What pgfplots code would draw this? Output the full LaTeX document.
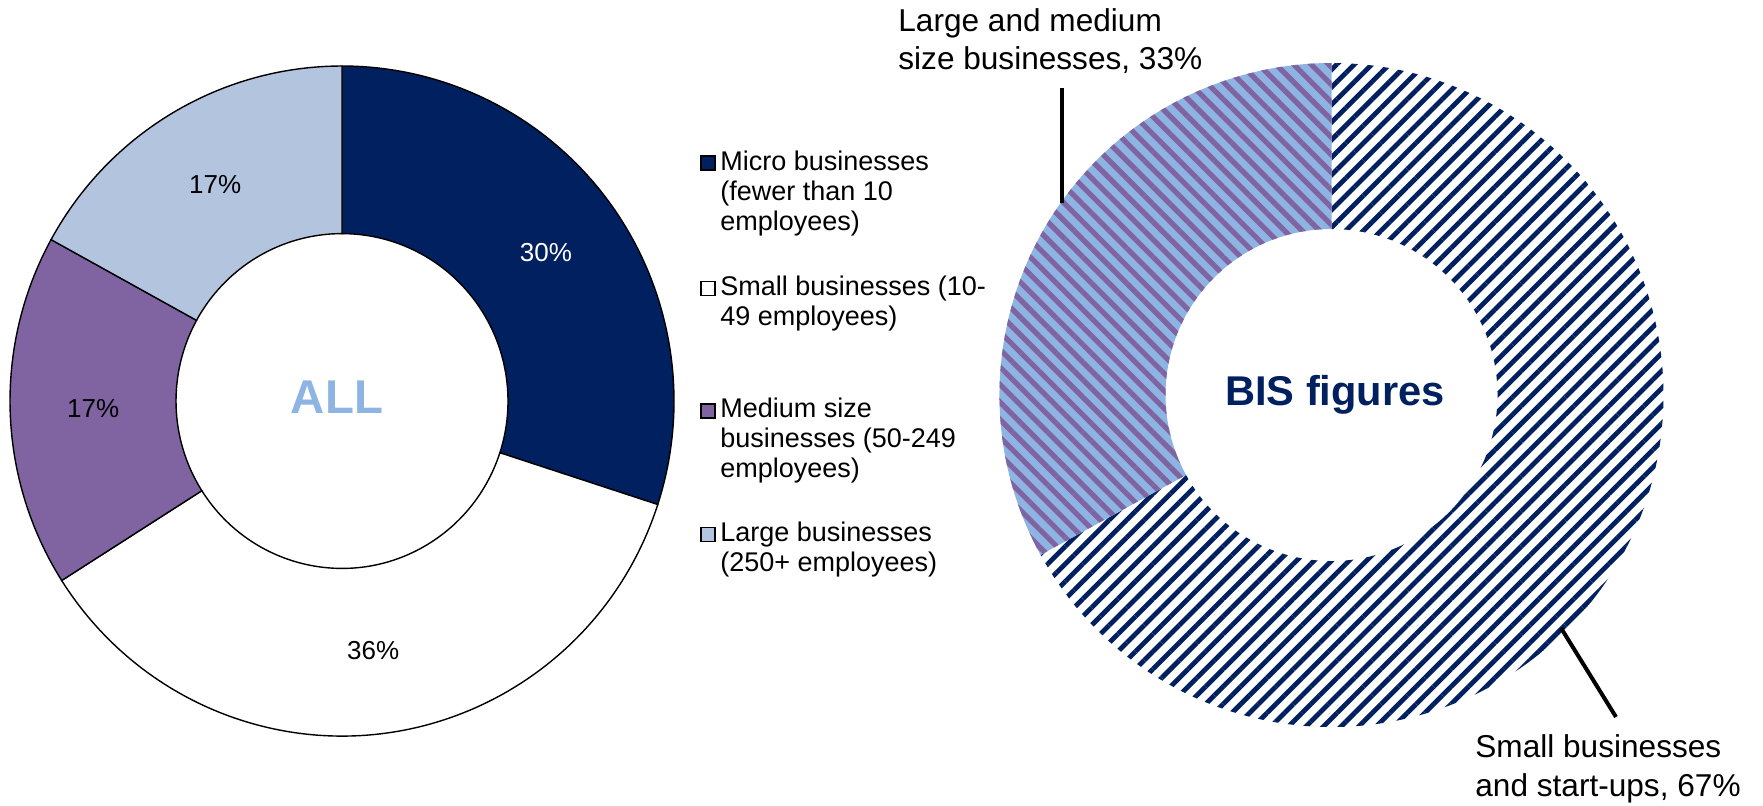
\documentclass[border=0pt]{standalone}
\usepackage{pgfplots}
\pgfplotsset{compat=1.18}
\usepackage{pgfplotstable}
\usepackage{fontspec}
\setmainfont{Liberation Sans}
\usetikzlibrary{patterns.meta}
\definecolor{navy}{HTML}{002060}
\definecolor{purp}{HTML}{8064A2}
\definecolor{grayblue}{HTML}{B3C4DE}
\definecolor{lblue}{HTML}{8DB4E2}

% ALL businesses: Micro, Small, Medium, Large (per cent)
\pgfplotstableread{
pct
30
36
17
17
}\alldata
% BIS figures: Small businesses and start-ups, Large and medium size businesses
\pgfplotstableread{
pct
67
33
}\bisdata

\newcommand\pctof[3]{\pgfplotstablegetelem{#2}{pct}\of{#1}\pgfmathsetmacro#3{\pgfplotsretval}}
% #1 cx, #2 cy (axis units), #3 start angle, #4 end angle,
% #5 outer x radius, #6 outer y radius, #7 inner x radius, #8 inner y radius, #9 style
\newcommand\slice[9]{%
  \path[#9] (axis cs:#1,#2) ++({cos(#3)*#5},{sin(#3)*#6})
    arc[start angle=#3,end angle=#4,x radius=#5,y radius=#6]
    -- ++({cos(#4)*(#7-#5)},{sin(#4)*(#8-#6)})
    arc[start angle=#4,end angle=#3,x radius=#7,y radius=#8] -- cycle;}
\newcommand\lbl{\fontsize{13}{15.5}\selectfont}
\newcommand\ann{\fontsize{15.8}{18.8}\selectfont}

\begin{document}
\begin{tikzpicture}
\pctof{\alldata}{0}{\pA}\pctof{\alldata}{1}{\pB}\pctof{\alldata}{2}{\pC}\pctof{\alldata}{3}{\pD}
\pctof{\bisdata}{0}{\qA}\pctof{\bisdata}{1}{\qB}
\pgfmathsetmacro\aA{90}
\pgfmathsetmacro\aB{\aA-3.6*\pA}
\pgfmathsetmacro\aC{\aB-3.6*\pB}
\pgfmathsetmacro\aD{\aC-3.6*\pC}
\pgfmathsetmacro\aE{\aD-3.6*\pD}
\pgfmathsetmacro\mA{(\aA+\aB)/2}
\pgfmathsetmacro\mB{(\aB+\aC)/2}
\pgfmathsetmacro\mC{(\aC+\aD)/2}
\pgfmathsetmacro\mD{(\aD+\aE)/2}
\pgfmathtruncatemacro\tA{\pA}\pgfmathtruncatemacro\tB{\pB}
\pgfmathtruncatemacro\tC{\pC}\pgfmathtruncatemacro\tD{\pD}
\pgfmathsetmacro\bA{90}
\pgfmathsetmacro\bB{\bA-3.6*\qA}
\pgfmathsetmacro\bC{\bB-3.6*\qB}
\pgfmathtruncatemacro\uA{\qA}\pgfmathtruncatemacro\uB{\qB}
\begin{axis}[
  width=881.5pt, height=402.5pt, scale only axis,
  xmin=0, xmax=1763, ymin=0, ymax=805, y dir=reverse,
  hide axis, clip=false]
% ---- left donut (ALL)
\slice{342}{401}{\aA}{\aB}{166pt}{167.5pt}{83pt}{83.7pt}{fill=navy, draw=black, line width=0.7pt}
\slice{342}{401}{\aB}{\aC}{166pt}{167.5pt}{83pt}{83.7pt}{fill=white, draw=black, line width=0.7pt}
\slice{342}{401}{\aC}{\aD}{166pt}{167.5pt}{83pt}{83.7pt}{fill=purp, draw=black, line width=0.7pt}
\slice{342}{401}{\aD}{\aE}{166pt}{167.5pt}{83pt}{83.7pt}{fill=grayblue, draw=black, line width=0.7pt}
\path (axis cs:342,401) ++({cos(\mA)*126pt},{sin(\mA)*126pt}) node[text=white, font=\lbl] {\tA\%};
\path (axis cs:342,401) ++({cos(\mB)*124.5pt},{sin(\mB)*125.6pt}) node[text=black, font=\lbl] {\tB\%};
\path (axis cs:342,401) ++({cos(\mC)*124.5pt},{sin(\mC)*125.6pt}) node[text=black, font=\lbl] {\tC\%};
\path (axis cs:342,401) ++({cos(\mD)*124.5pt},{sin(\mD)*125.6pt}) node[text=black, font=\lbl] {\tD\%};
\node[anchor=base, inner sep=0pt, text=lblue, font=\fontsize{23.7}{28}\selectfont\bfseries] at (axis cs:337,413) {ALL};
% ---- legend
\filldraw[fill=navy, draw=black, line width=0.6pt] (axis cs:701,156) rectangle (axis cs:715,170);
\filldraw[fill=white, draw=black, line width=0.6pt] (axis cs:701,281.5) rectangle (axis cs:715,295.5);
\filldraw[fill=purp, draw=black, line width=0.6pt] (axis cs:701,404) rectangle (axis cs:715,418);
\filldraw[fill=grayblue, draw=black, line width=0.6pt] (axis cs:701,527.5) rectangle (axis cs:715,541.5);
\begin{scope}[every node/.style={anchor=base west, inner sep=0pt, font=\fontsize{13.5}{15.5}\selectfont}]
\node at (axis cs:720,170.7) {Micro businesses};
\node at (axis cs:720,200.7) {(fewer than 10};
\node at (axis cs:720,230.7) {employees)};
\node at (axis cs:720,295) {Small businesses (10-};
\node at (axis cs:720,325) {49 employees)};
\node at (axis cs:720,417.3) {Medium size};
\node at (axis cs:720,447.3) {businesses (50-249};
\node at (axis cs:720,477.3) {employees)};
\node at (axis cs:720,541.7) {Large businesses};
\node at (axis cs:720,571.7) {(250+ employees)};
\end{scope}
% ---- right donut (BIS figures)
\slice{1331.5}{395}{\bA}{\bB}{166pt}{166pt}{83pt}{83pt}{fill=white, postaction={pattern={Lines[angle=45,distance=6.2pt,line width=2.4pt]}, pattern color=navy}}
\slice{1331.5}{395}{\bB}{\bC}{166pt}{166pt}{83pt}{83pt}{fill=lblue, postaction={pattern={Lines[angle=-45,distance=6.2pt,line width=2.6pt]}, pattern color=purp}}
\node[anchor=base, inner sep=0pt, text=navy, font=\fontsize{20.8}{25}\selectfont\bfseries] at (axis cs:1335,405.3) {BIS figures};
\draw[line width=2pt] (axis cs:1061.7,88) -- (axis cs:1061.7,203);
\draw[line width=2pt] (axis cs:1561,628) -- (axis cs:1616,717);
\begin{scope}[every node/.style={anchor=base west, inner sep=0pt, font=\ann}]
\node at (axis cs:898,31.7) {Large and medium};
\node at (axis cs:898,69.3) {size businesses, \uB\%};
\node at (axis cs:1475,757.7) {Small businesses};
\node at (axis cs:1475,796) {and start-ups, \uA\%};
\end{scope}
\end{axis}
\pgfresetboundingbox
\path[use as bounding box] (current axis.south west) rectangle (current axis.north east);
\end{tikzpicture}
\end{document}
